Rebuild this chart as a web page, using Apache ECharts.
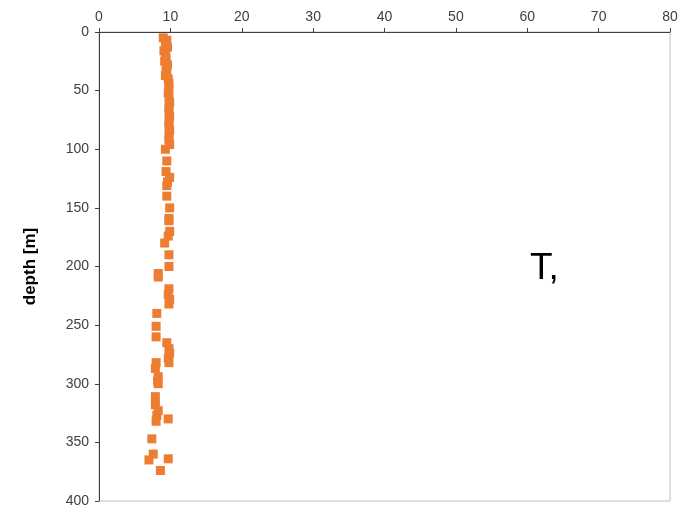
<!DOCTYPE html>
<html>
<head>
<meta charset="utf-8">
<script src="https://cdn.jsdelivr.net/npm/echarts@6/dist/echarts.min.js"></script>
<style>
html,body{margin:0;padding:0;background:#fff;}
#chart{width:690px;height:515px;}
</style>
</head>
<body>
<div id="chart"></div>
<script>
// depth [m] and temperature values
var depths = [5, 7, 10, 13, 16, 19, 22, 25, 28, 31, 34, 37, 40, 44, 48, 52, 56, 60, 64, 68, 72, 76, 80, 84, 88, 92, 96, 100,
  110, 119, 124, 128, 131, 140, 150, 159, 161, 170, 174, 180, 190, 200, 206, 209,
  219, 224, 228, 232, 240, 251, 260, 265, 270, 274, 278, 282, 282, 287, 294, 298, 300,
  311, 318, 323, 327, 330, 332, 347, 360, 364, 365, 374];
var temps = [9.0, 9.5, 9.3, 9.6, 9.1, 9.3, 9.4, 9.2, 9.6, 9.4, 9.5, 9.3, 9.7, 9.8, 9.8, 9.7, 9.8, 9.9, 9.8, 9.8, 9.9, 9.8, 9.8, 9.9, 9.8, 9.8, 9.9, 9.3,
  9.5, 9.4, 9.9, 9.6, 9.5, 9.5, 9.9, 9.8, 9.8, 9.9, 9.7, 9.2, 9.8, 9.8, 8.3, 8.3,
  9.8, 9.7, 9.9, 9.8, 8.1, 8.0, 8.0, 9.5, 9.8, 9.9, 9.7, 9.8, 8.0, 7.9, 8.3, 8.2, 8.3,
  7.9, 7.9, 8.3, 8.1, 9.7, 8.0, 7.4, 7.6, 9.7, 7.0, 8.6];
var xTicks = [0, 10, 20, 30, 40, 50, 60, 70, 80];
var yTicks = [0, 50, 100, 150, 200, 250, 300, 350, 400];

var points = depths.map(function (d, i) { return [temps[i], d]; });

var chart = echarts.init(document.getElementById('chart'), null, {renderer: 'canvas'});
var labelStyle = {color: '#404040', fontSize: 14, fontFamily: 'Liberation Sans, Arial, sans-serif'};
chart.setOption({
  animation: false,
  grid: {left: 99, top: 32, right: 20, bottom: 14, show: true, borderColor: '#bfbfbf', borderWidth: 1},
  xAxis: {
    type: 'value', position: 'top', min: xTicks[0], max: xTicks[xTicks.length - 1], interval: 10,
    axisLine: {show: true, lineStyle: {color: '#404040', width: 1}},
    axisTick: {show: true, length: 4, lineStyle: {color: '#404040'}},
    axisLabel: Object.assign({margin: 8}, labelStyle),
    splitLine: {show: false}
  },
  yAxis: {
    type: 'value', inverse: true, min: yTicks[0], max: yTicks[yTicks.length - 1], interval: 50,
    name: 'depth [m]', nameLocation: 'middle', nameGap: 60, nameRotate: 90,
    nameTextStyle: {fontSize: 17, fontWeight: 'bold', color: '#000', fontFamily: 'Liberation Sans, Arial, sans-serif'},
    axisLine: {show: true, lineStyle: {color: '#404040', width: 1}},
    axisTick: {show: true, length: 4, lineStyle: {color: '#404040'}},
    axisLabel: Object.assign({margin: 10}, labelStyle),
    splitLine: {show: false}
  },
  graphic: [{
    type: 'text', left: 530, top: 250,
    style: {text: 'T,', fontSize: 37, fill: '#000', fontFamily: 'Liberation Sans, Arial, sans-serif'}
  }],
  series: [{
    type: 'scatter', data: points, symbol: 'rect', symbolSize: 9,
    itemStyle: {color: '#ED7D31', opacity: 1}
  }]
});
</script>
</body>
</html>
